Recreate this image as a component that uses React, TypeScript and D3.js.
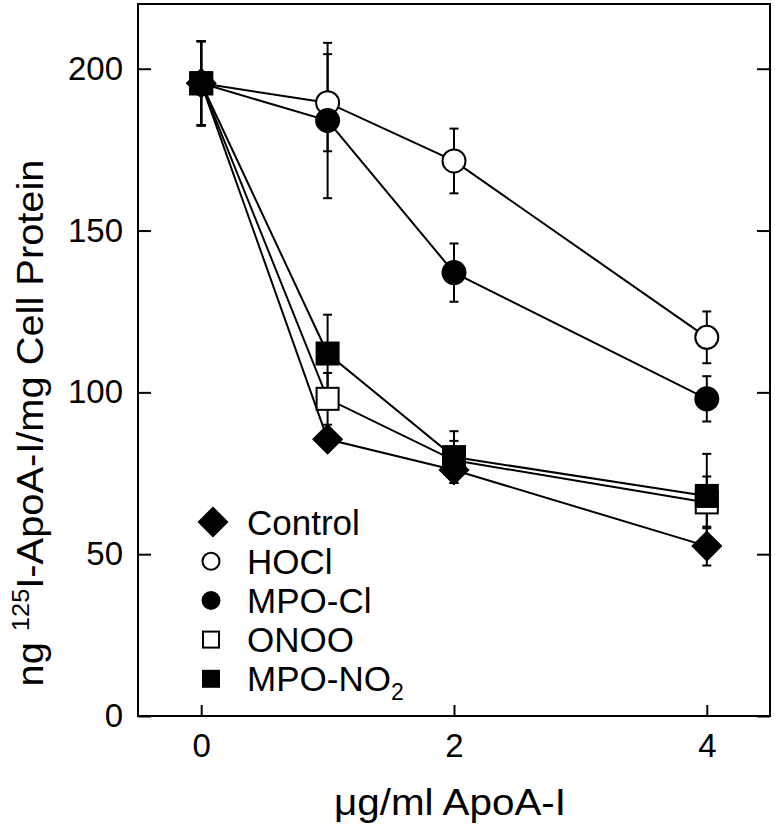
import React, { useRef, useEffect } from 'react';
import * as d3 from 'd3';

// doses (x) and mean uptake with error for each treatment
const doses = [0, 1, 2, 4];
const controlVals = [195.5, 85.5, 76, 52.5];
const controlErr = [13, 3, 4, 6];
const hoclVals = [195.5, 189.5, 171.5, 117];
const hoclErr = [13, 15, 10, 8];
const mpoClVals = [195.5, 184, 137, 98];
const mpoClErr = [13, 24, 9, 7];
const onooVals = [195.5, 98, 79, 66];
const onooErr = [13, 8, 6, 8];
const mpoNo2Vals = [195.5, 112, 80, 68];
const mpoNo2Err = [13, 12, 8, 13];

const yTicks = [0, 50, 100, 150, 200];
const xTicks = [0, 2, 4];

// draw order: open ones first, filled on top
const series = [
  { name: 'HOCl', vals: hoclVals, err: hoclErr, shape: 'circle', fill: '#fff' },
  { name: 'MPO-Cl', vals: mpoClVals, err: mpoClErr, shape: 'circle', fill: '#000' },
  { name: 'ONOO', vals: onooVals, err: onooErr, shape: 'square', fill: '#fff' },
  { name: 'MPO-NO2', vals: mpoNo2Vals, err: mpoNo2Err, shape: 'square', fill: '#000' },
  { name: 'Control', vals: controlVals, err: controlErr, shape: 'diamond', fill: '#000' },
];

const legendItems = [
  { label: 'Control', shape: 'diamond', fill: '#000' },
  { label: 'HOCl', shape: 'circle', fill: '#fff' },
  { label: 'MPO-Cl', shape: 'circle', fill: '#000' },
  { label: 'ONOO', shape: 'square', fill: '#fff' },
  { label: 'MPO-NO', sub: '2', shape: 'square', fill: '#000' },
];

const FONT = '"Liberation Sans", Arial, sans-serif';

const drawMarker = (g, shape, cx, cy, fill, size) => {
  if (shape === 'circle') {
    g.append('circle')
      .attr('cx', cx).attr('cy', cy).attr('r', size.r)
      .attr('fill', fill).attr('stroke', '#000').attr('stroke-width', 2);
  } else if (shape === 'square') {
    const s = size.sq;
    g.append('rect')
      .attr('x', cx - s / 2).attr('y', cy - s / 2)
      .attr('width', s).attr('height', s)
      .attr('fill', fill).attr('stroke', '#000').attr('stroke-width', 2);
  } else {
    const d = size.dm;
    g.append('path')
      .attr('d', `M${cx},${cy - d}L${cx + d},${cy}L${cx},${cy + d}L${cx - d},${cy}Z`)
      .attr('fill', fill).attr('stroke', '#000').attr('stroke-width', 1.5);
  }
};

const App = () => {
  const ref = useRef(null);

  useEffect(() => {
    const svg = d3.select(ref.current);
    svg.selectAll('*').remove();

    const left = 138, right = 770, top = 4, bottom = 716;

    const x = d3.scaleLinear().domain([-0.5, 4.5]).range([left, right]);
    const y = d3.scaleLinear().domain([0, 220]).range([bottom, top]);

    // frame
    svg.append('rect')
      .attr('x', left).attr('y', top)
      .attr('width', right - left).attr('height', bottom - top)
      .attr('fill', 'none').attr('stroke', '#000').attr('stroke-width', 2);

    // axes, ticks pointing inward
    const yAxis = svg.append('g')
      .attr('transform', `translate(${left},0)`)
      .call(d3.axisLeft(y).tickValues(yTicks).tickSizeInner(-13).tickSizeOuter(0).tickPadding(15));
    yAxis.select('.domain').remove();
    yAxis.selectAll('line').attr('stroke-width', 2);
    yAxis.selectAll('text').style('font-family', FONT).style('font-size', '33px').attr('fill', '#000');

    const yAxisR = svg.append('g')
      .attr('transform', `translate(${right},0)`)
      .call(d3.axisRight(y).tickValues(yTicks).tickSizeInner(-13).tickSizeOuter(0).tickFormat(''));
    yAxisR.select('.domain').remove();
    yAxisR.selectAll('line').attr('stroke-width', 2);

    const xAxis = svg.append('g')
      .attr('transform', `translate(0,${bottom})`)
      .call(d3.axisBottom(x).tickValues(xTicks).tickFormat(d3.format('d'))
        .tickSizeInner(-11).tickSizeOuter(0).tickPadding(18));
    xAxis.select('.domain').remove();
    xAxis.selectAll('line').attr('stroke-width', 2);
    xAxis.selectAll('text').style('font-family', FONT).style('font-size', '33px').attr('fill', '#000');

    // axis titles
    svg.append('text')
      .attr('x', 450).attr('y', 815)
      .attr('text-anchor', 'middle')
      .attr('textLength', 232).attr('lengthAdjust', 'spacingAndGlyphs')
      .style('font-family', FONT).style('font-size', '36px')
      .text('\u03bcg/ml ApoA-I');

    const yt = svg.append('text')
      .attr('transform', 'translate(43,423) rotate(-90)')
      .attr('text-anchor', 'middle')
      .attr('textLength', 527).attr('lengthAdjust', 'spacingAndGlyphs')
      .style('font-family', FONT).style('font-size', '36px');
    yt.append('tspan').text('ng ');
    yt.append('tspan').attr('dy', -14).style('font-size', '23px').text('125');
    yt.append('tspan').attr('dy', 14).text('I-ApoA-I/mg Cell Protein');

    const line = d3.line().x((d, i) => x(doses[i])).y(d => y(d));
    const plotSize = { r: 11.5, sq: 22, dm: 14.5 };

    // connecting lines
    series.forEach(s => {
      svg.append('path')
        .attr('d', line(s.vals))
        .attr('fill', 'none').attr('stroke', '#000').attr('stroke-width', 2);
    });

    // error bars
    series.forEach(s => {
      s.vals.forEach((v, i) => {
        const cx = x(doses[i]);
        const y1 = y(v + s.err[i]), y2 = y(v - s.err[i]);
        const g = svg.append('g').attr('stroke', '#000').attr('stroke-width', 2);
        g.append('line').attr('x1', cx).attr('x2', cx).attr('y1', y1).attr('y2', y2);
        g.append('line').attr('x1', cx - 4.5).attr('x2', cx + 4.5).attr('y1', y1).attr('y2', y1);
        g.append('line').attr('x1', cx - 4.5).attr('x2', cx + 4.5).attr('y1', y2).attr('y2', y2);
      });
    });

    // markers
    series.forEach(s => {
      s.vals.forEach((v, i) => {
        drawMarker(svg, s.shape, x(doses[i]), y(v), s.fill, plotSize);
      });
    });

    // legend
    const legSize = { r: 8.5, sq: 16, dm: 14.5 };
    legendItems.forEach((item, i) => {
      const cy = 522 + i * 39.2;
      const mx = item.shape === 'diamond' ? 213 : 211;
      drawMarker(svg, item.shape, mx, cy, item.fill, legSize);
      const t = svg.append('text')
        .attr('x', 247).attr('y', cy + 12.5)
        .style('font-family', FONT).style('font-size', '35px')
        .text(item.label);
      if (item.sub) {
        t.append('tspan').attr('dy', 9).style('font-size', '23px').text(item.sub);
      }
    });
  }, []);

  return (
    <svg
      ref={ref}
      width={775}
      height={827}
      style={{ position: 'absolute', left: 0, top: 0, background: '#fff' }}
    />
  );
};

export default App;
